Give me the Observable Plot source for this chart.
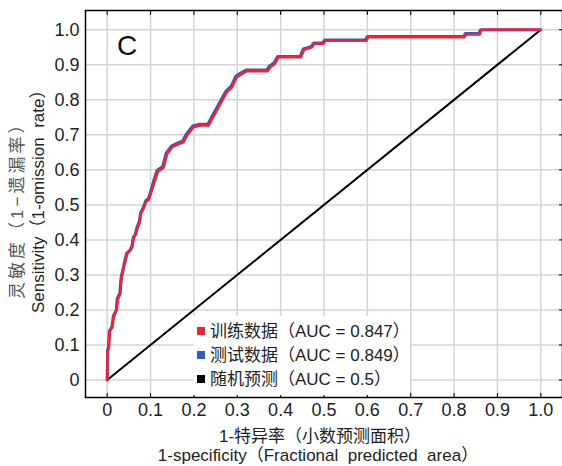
<!DOCTYPE html>
<html>
<head>
<meta charset="utf-8">
<script src="https://cdn.jsdelivr.net/npm/d3@7"></script>
<script src="https://cdn.jsdelivr.net/npm/@observablehq/plot@0.6"></script>
<style>
  html, body { margin: 0; padding: 0; background: #fff; }
  svg { display: block; }
</style>
</head>
<body>
<div id="chart"></div>
<script>
// ---- data ----
const trainX = [0, 0.001, 0.004, 0.006, 0.012, 0.015, 0.022, 0.024, 0.03, 0.033, 0.04, 0.046, 0.054, 0.058, 0.061, 0.066, 0.07, 0.075, 0.078, 0.084, 0.09, 0.096, 0.1, 0.109, 0.117, 0.13, 0.138, 0.15, 0.165, 0.176, 0.184, 0.199, 0.215, 0.234, 0.242, 0.253, 0.265, 0.276, 0.288, 0.299, 0.311, 0.322, 0.37, 0.376, 0.387, 0.395, 0.447, 0.454, 0.472, 0.478, 0.498, 0.504, 0.598, 0.602, 0.824, 0.828, 0.859, 0.863, 1.0];
const trainY = [0, 0.08, 0.093, 0.14, 0.15, 0.18, 0.2, 0.23, 0.245, 0.29, 0.33, 0.36, 0.37, 0.38, 0.405, 0.415, 0.435, 0.45, 0.475, 0.49, 0.51, 0.515, 0.53, 0.565, 0.595, 0.607, 0.645, 0.665, 0.674, 0.679, 0.698, 0.722, 0.727, 0.727, 0.746, 0.77, 0.798, 0.822, 0.836, 0.865, 0.874, 0.882, 0.882, 0.893, 0.903, 0.922, 0.922, 0.943, 0.95, 0.96, 0.96, 0.969, 0.969, 0.979, 0.979, 0.987, 0.987, 1.0, 1.0];
const testX = [0, 0.001, 0.003, 0.005, 0.011, 0.014, 0.021, 0.023, 0.029, 0.032, 0.039, 0.045, 0.053, 0.057, 0.06, 0.065, 0.069, 0.074, 0.077, 0.083, 0.089, 0.095, 0.099, 0.107, 0.115, 0.128, 0.136, 0.148, 0.163, 0.174, 0.182, 0.197, 0.213, 0.232, 0.24, 0.251, 0.263, 0.274, 0.286, 0.297, 0.309, 0.32, 0.368, 0.374, 0.385, 0.393, 0.445, 0.452, 0.47, 0.476, 0.496, 0.502, 0.596, 0.6, 0.822, 0.826, 0.857, 0.861, 1.0];
const testY = [0, 0.085, 0.095, 0.14, 0.152, 0.182, 0.2, 0.232, 0.247, 0.292, 0.332, 0.362, 0.372, 0.382, 0.407, 0.417, 0.437, 0.452, 0.478, 0.492, 0.512, 0.518, 0.533, 0.568, 0.598, 0.61, 0.648, 0.668, 0.677, 0.682, 0.701, 0.725, 0.73, 0.73, 0.749, 0.773, 0.801, 0.825, 0.839, 0.868, 0.877, 0.885, 0.885, 0.896, 0.906, 0.924, 0.924, 0.945, 0.952, 0.962, 0.962, 0.971, 0.971, 0.981, 0.981, 0.989, 0.989, 1.0, 1.0];
const randomX = [0, 1];
const randomY = [0, 1];
const xTicks = [0, 0.1, 0.2, 0.3, 0.4, 0.5, 0.6, 0.7, 0.8, 0.9, 1.0];
const yTicks = [0, 0.1, 0.2, 0.3, 0.4, 0.5, 0.6, 0.7, 0.8, 0.9, 1.0];
const seriesNames = ["训练数据（AUC = 0.847）", "测试数据（AUC = 0.849）", "随机预测（AUC = 0.5）"];
const seriesColors = ["#ea243c", "#2f5eb3", "#000000"];
const panelLabel = "C";
const xTitle = ["1-特异率（小数预测面积）", "1-specificity（Fractional  predicted  area）"];
const yTitle = ["灵敏度（1−遗漏率）", "Sensitivity（1-omission  rate）"];

const toRows = (xs, ys) => xs.map((x, i) => ({x, y: ys[i]}));
const train = toRows(trainX, trainY);
const test = toRows(testX, testY);
const random = toRows(randomX, randomY);
const fmt = d => d === 0 ? "0" : d.toFixed(1);
const FONT = "'Liberation Sans', Arial, 'Noto Sans CJK SC', sans-serif";

const svg = Plot.plot({
  width: 562,
  height: 466,
  marginLeft: 85,
  marginRight: 0,
  marginTop: 10,
  marginBottom: 69,
  style: {fontFamily: FONT, fontSize: "18px", color: "#222", background: "#fff"},
  x: {domain: [-0.05, 1.05], label: null},
  y: {domain: [-0.05, 1.055], label: null},
  marks: [
    Plot.gridX(xTicks, {stroke: "#d4d4d4", strokeOpacity: 1, strokeWidth: 1.5}),
    Plot.gridY(yTicks, {stroke: "#d4d4d4", strokeOpacity: 1, strokeWidth: 1.5}),
    Plot.axisX(xTicks, {anchor: "bottom", tickSize: 0, tickPadding: 6, tickFormat: fmt, label: null, fill: "#222"}),
    Plot.axisY(yTicks, {anchor: "left", tickSize: 0, tickPadding: 6, tickFormat: fmt, label: null, fill: "#222"}),
    Plot.axisX(xTicks, {anchor: "bottom", tickSize: -4, tickFormat: () => "", label: null, stroke: "#000"}),
    Plot.axisX(xTicks, {anchor: "top", tickSize: -4, tickFormat: () => "", label: null, stroke: "#000"}),
    Plot.axisY(yTicks, {anchor: "right", tickSize: -4, tickFormat: () => "", label: null, stroke: "#000"}),
    Plot.frame({stroke: "#000", strokeWidth: 1.5}),
    Plot.line(random, {x: "x", y: "y", stroke: seriesColors[2], strokeWidth: 2}),
    Plot.line(test, {x: "x", y: "y", stroke: seriesColors[1], strokeWidth: 3}),
    Plot.line(train, {x: "x", y: "y", stroke: seriesColors[0], strokeWidth: 2.7})
  ]
});

const s = d3.select(svg);
const addText = (x, y, size, fill, str, anchor) =>
  s.append("text").attr("x", x).attr("y", y).attr("font-size", size).attr("fill", fill)
   .attr("font-family", FONT).attr("text-anchor", anchor).style("white-space", "pre").text(str);
// panel label
addText(117, 55, 28, "#111", panelLabel, "start");
// x title
addText(320, 442, 17, "#222", xTitle[0], "middle");
addText(318, 461, 17, "#222", xTitle[1], "middle");
// y title
s.append("text").attr("transform", "translate(23,299) rotate(-90)").attr("text-anchor", "start")
 .attr("font-size", 17).attr("letter-spacing", 3).attr("fill", "#555").attr("font-family", FONT).text(yTitle[0]);
s.append("text").attr("transform", "translate(44,313) rotate(-90)").attr("text-anchor", "start")
 .attr("font-size", 17).attr("fill", "#222").attr("font-family", FONT).style("white-space", "pre").text(yTitle[1]);
// legend
const lg = s.append("g");
lg.append("rect").attr("x", 193).attr("y", 316).attr("width", 217).attr("height", 79).attr("fill", "#fff");
seriesNames.forEach((name, i) => {
  const cy = 331 + i * 24;
  lg.append("rect").attr("x", 197).attr("y", cy - 4).attr("width", 8).attr("height", 8).attr("fill", seriesColors[i]);
  lg.append("text").attr("x", 210).attr("y", cy + 6).attr("font-size", 17).attr("fill", "#222")
    .attr("font-family", FONT).attr("text-anchor", "start").text(name);
});

document.getElementById("chart").appendChild(svg);
</script>
</body>
</html>
